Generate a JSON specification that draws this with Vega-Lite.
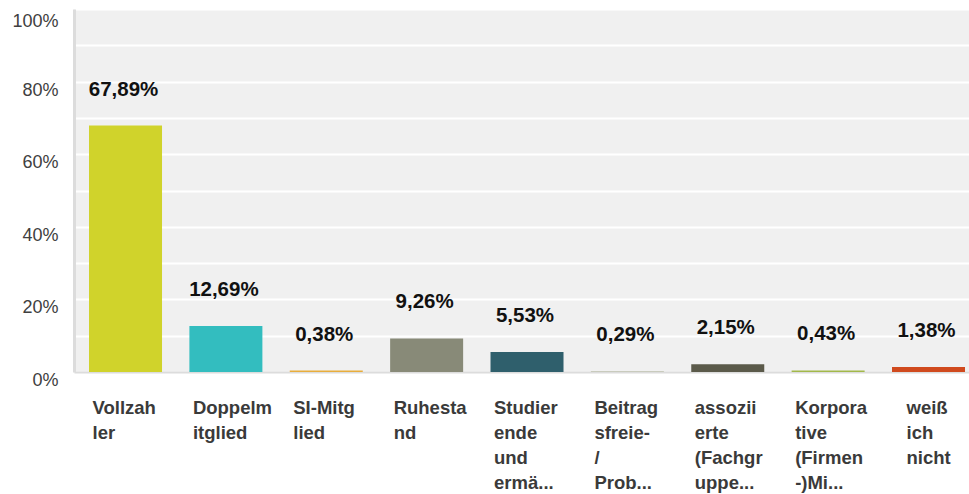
{
  "$schema": "https://vega.github.io/schema/vega-lite/v6.json",
  "autosize": "none",
  "width": 895,
  "height": 363,
  "padding": {"left": 74, "top": 9, "right": 0, "bottom": 122},
  "background": "white",
  "config": {
    "locale": {"number": {"decimal": ",", "thousands": ".", "grouping": [3], "currency": ["", " €"]}},
    "view": {"fill": "#f0f0f0", "stroke": null},
    "font": "Liberation Sans"
  },
  "data": {
    "values": [
      {"answer": "Vollzah\nler", "share": 0.6789},
      {"answer": "Doppelm\nitglied", "share": 0.1269},
      {"answer": "SI-Mitg\nlied", "share": 0.0038},
      {"answer": "Ruhesta\nnd", "share": 0.0926},
      {"answer": "Studier\nende\nund\nermä...", "share": 0.0553},
      {"answer": "Beitrag\nsfreie-\n/\nProb...", "share": 0.0029},
      {"answer": "assozii\nerte\n(Fachgr\nuppe...", "share": 0.0215},
      {"answer": "Korpora\ntive\n(Firmen\n-)Mi...", "share": 0.0043},
      {"answer": "weiß\nich\nnicht", "share": 0.0138}
    ]
  },
  "encoding": {
    "x": {
      "field": "answer",
      "type": "nominal",
      "sort": null,
      "scale": {"paddingInner": 0.2727, "paddingOuter": 0.0947, "align": 0.79},
      "axis": {
        "title": null,
        "labelAngle": 0,
        "labelExpr": "split(datum.label, '\\n')",
        "labelAlign": "left",
        "labelBaseline": "top",
        "labelOffset": {"condition": {"test": "indexof(datum.value, 'wei') == 0", "value": -22}, "value": -33},
        "labelPadding": 26,
        "labelLineHeight": 25,
        "labelFontSize": 18.5,
        "labelFontWeight": "bold",
        "labelColor": "#3a3a3a",
        "labelLimit": 300,
        "labelOverlap": false,
        "labelBound": false,
        "ticks": false,
        "domainColor": "#dcdcdc",
        "domainWidth": 2,
        "grid": false
      }
    },
    "y": {
      "field": "share",
      "type": "quantitative",
      "scale": {"domain": [0, 1], "nice": false},
      "axis": {
        "title": null,
        "values": [0, 0.1, 0.2, 0.3, 0.4, 0.5, 0.6, 0.7, 0.8, 0.9, 1],
        "format": ".0%",
        "labelExpr": "round(datum.value * 10) % 2 == 0 ? datum.label : ''",
        "labelFontSize": 18,
        "labelColor": "#404040",
        "labelPadding": 16,
        "labelOffset": {"condition": {"test": "datum.value == 1", "value": 12}, "value": 8.5},
        "labelBound": false,
        "ticks": false,
        "domainColor": "#dcdcdc",
        "domainWidth": 3,
        "gridColor": "white",
        "gridWidth": 2
      }
    }
  },
  "layer": [
    {
      "mark": {"type": "bar"},
      "encoding": {
        "color": {
          "field": "answer",
          "type": "nominal",
          "sort": null,
          "legend": null,
          "scale": {"range": ["#d0d32b", "#33bdbf", "#e8ad3c", "#888a78", "#2f5f6c", "#c9cbbd", "#5b5a4a", "#a2b84a", "#d04a1e"]}
        }
      }
    },
    {
      "mark": {"type": "text", "baseline": "alphabetic", "align": "center", "dy": -30, "dx": -2, "fontSize": 20.5, "fontWeight": "bold", "color": "#111111"},
      "encoding": {
        "text": {"field": "share", "type": "quantitative", "format": ".2%"}
      }
    }
  ]
}
